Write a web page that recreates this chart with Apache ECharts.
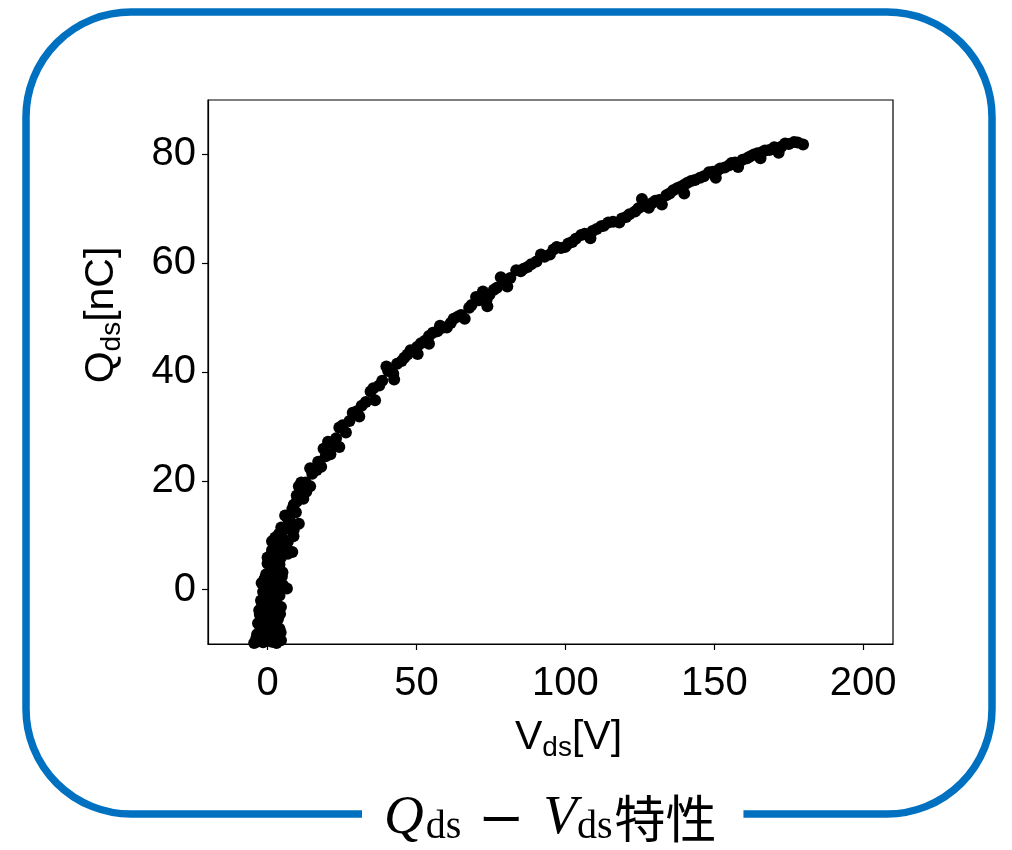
<!DOCTYPE html>
<html>
<head>
<meta charset="utf-8">
<script src="https://cdn.jsdelivr.net/npm/echarts@6/dist/echarts.min.js"></script>
<style>
html,body{margin:0;padding:0;background:#fff;}
#chart{width:1012px;height:850px;}
</style>
</head>
<body>
<div id="chart"></div>
<script>
// Data: Vds [V] and Qds [nC]
const vds = [
 -4.5,-3,-1.5,0,1.5,3,4.5,-3.8,-0.8,2.2,3.8,
 -3.5,-1,1,3.5,-2,0.2,2.6,4.4,
 -2.5,0,2,4,-3.2,-1.2,1.2,3,
 -2,0.5,3.5,-2.6,-0.8,1.8,4.2,
 -2.8,-0.5,2,4.5,-1.8,1,3.2,
 -2.2,0,2.8,-1,1.6,4,
 -1.5,1,3.5,6.5,-0.5,2.2,5.2,
 -2,0.5,3,4.8,-1,1.8,4,
 -0.5,1.5,3.5,0.8,2.6,5,
 0,2,4,1,3,
 0,1.2,3,6.8,8.3,2.2,4.4,
 1.5,2.8,5,4,6.2,
 1.5,3.8,5.3,8.7,2.6,6.8,
 5.9,7.5,10.5,4.6,8.8,
 6.8,5.9,8.3,9.5,7.4,
 9.8,12,9.8,10.5,11.3,12.8,14.3,13,8.8,
 14.3,15,16.5,18,17,
 18.8,20.3,19.5,21.1,22.5,24.1,23,
 24.1,25.2,26.3,27.5,28.6,30,30.8,31.6,33,
 34.6,35.5,36.1,37.5,38.5,39.9,40.5,42.2,42.5,43.5,45,45.9,47,48,
 50.2,50.4,51.5,53,54.2,54.2,55.5,57.9,57,59,60.2,61.5,62.5,64,65,66.2,67.7,68.5,70,71,72.3,73.8,73.5,74.5,76,77,78.3,79.5,80.5,81.5,83.5,85,86,87.3,88.5,90.3,91.8,93,94.8,96,97.1,98.5,100,101,102.3,103.5,105.3,106.5,108.4,109.1,110.5,112,112.9,114.4,116,118.1,119,120.4,121.5,123.4,124.5,125.7,126.5,128,129,130.2,131.5,132.4,133.9,135,136.2,137.5,138.5,139.9,139.9,141,142.2,143.5,145.2,146.5,148.2,149.5,150.5,151,152,153.5,155,155.8,157,158,159.5,161,162,163.3,164.5,165.5,166,167,168.5,170.1,171.6,172.5,173.8,175,176.8,178,179.8
];
const qds = [
 -9.8,-9.5,-9.7,-9.4,-9.6,-9.8,-9.3,-9.0,-8.8,-9.1,-8.7,
 -8.2,-8.5,-8,-8.3,-7.6,-7.8,-7.5,-7.9,
 -6.8,-7,-6.5,-7.2,-6.2,-6.0,-6.3,-5.9,
 -5.3,-5,-5.4,-4.6,-4.4,-4.7,-4.5,
 -3.8,-3.5,-3.9,-3.2,-2.8,-2.9,-2.7,
 -2,-1.6,-2.2,-1.0,-1.2,-1.1,
 -0.4,0,-0.5,0.2,0.6,0.4,0.8,
 1.2,1.5,1.0,2.4,2.0,2.2,1.8,
 2.8,3.4,3.8,3.0,2.9,3.2,
 4.8,5.2,4.6,4.2,4.4,
 5.9,6.4,6.0,6.6,6.9,5.5,5.8,
 7.3,8.0,8.5,7.0,7.6,
 8.9,10.2,9.2,9.8,9.6,8.8,
 11.1,11.8,12.1,11.4,11.0,
 13.1,13.6,14.8,14.2,12.8,
 16.2,16.7,17.3,19,19.7,19.7,19,18,15.6,
 22.3,21.3,22,22.6,23.5,
 25.9,27.2,24.5,24.9,26.5,26.2,27.8,
 29.8,30.2,28.9,31,32.5,32.8,31.8,33.8,34.5,
 36.4,37,34.8,37.5,38.4,41,40.2,39.7,38.6,41.5,42,42.6,43.2,44,
 44.6,43.3,45.3,45.8,46.6,45.2,47.2,48.5,47.5,48.2,48.2,49,49.8,50.2,50.5,49.8,51.8,52.3,53.8,53.2,54.8,52.1,53.2,54.2,55.1,55.5,57.4,56.6,55.7,57.3,58.7,58.5,59,59.3,59.8,60.3,61.6,61.2,61.6,62.5,63,62.8,63,63.6,63.9,64.5,65.2,65.4,64.6,65.9,66.3,66.8,66.9,67.5,67.6,67.5,68.2,68.5,69,69.5,70.1,71.8,70.5,70.2,71,71.5,71.6,70.8,72.5,72.8,73.4,73.8,74,72.8,74.4,74.8,75.1,75.3,75.7,76,76.7,76.8,75.7,77,77.4,77.6,78,78.4,78.5,77.7,79,79.3,79.6,80,80.2,79.3,80.4,80.7,80.8,81.3,80.3,81.4,82,81.9,82.3,82.2,81.8
];
const xTicks = [0, 50, 100, 150, 200];
const yTicks = [0, 20, 40, 60, 80];

const points = vds.map((v, i) => [v, qds[i]]);

const chart = echarts.init(document.getElementById('chart'), null, {renderer: 'canvas'});
const sans = 'Liberation Sans, Arial, sans-serif';
const serif = 'Liberation Serif, DejaVu Serif, serif';
chart.setOption({
  animation: false,
  backgroundColor: '#fff',
  title: {
    text: '{q|Q}{qs|ds}{dash|ー}{q|V}{qs2|ds}{cjk|特性}',
    left: 362,
    top: 789,
    backgroundColor: '#fff',
    padding: [2, 27, 2, 22],
    textStyle: {
      fontWeight: 'normal',
      rich: {
        q: {fontFamily: serif, fontStyle: 'italic', fontWeight: 'normal', fontSize: 55, color: '#000', lineHeight: 56, verticalAlign: 'middle'},
        qs: {fontFamily: serif, fontWeight: 'normal', fontSize: 40, color: '#000', lineHeight: 36, verticalAlign: 'bottom', padding: [0, 0, 0, 2]},
        qs2: {fontFamily: serif, fontWeight: 'normal', fontSize: 40, color: '#000', lineHeight: 36, verticalAlign: 'bottom', padding: [0, 2, 0, 0]},
        dash: {fontFamily: 'Noto Sans CJK JP', fontWeight: 'normal', fontSize: 44, color: '#000', lineHeight: 56, padding: [0, 20, 0, 18], verticalAlign: 'middle'},
        cjk: {fontFamily: 'Noto Sans CJK JP', fontWeight: 'normal', fontSize: 51, color: '#000', lineHeight: 56, verticalAlign: 'middle'}
      }
    }
  },
  graphic: [{
    type: 'rect',
    z: -1,
    shape: {x: 26, y: 12, width: 966, height: 802, r: 105},
    style: {fill: 'none', stroke: '#0070C0', lineWidth: 7.5}
  }],
  grid: {
    left: 208, right: 119, top: 100, bottom: 206,
    show: true, borderColor: '#000', borderWidth: 1.2, backgroundColor: 'transparent'
  },
  xAxis: {
    type: 'value',
    min: -20, max: 210,
    name: '{m|V}{s|ds}{m|[V]}',
    nameLocation: 'middle',
    nameGap: 70,
    nameTextStyle: {
      padding: [0, 0, 0, 36],
      rich: {
        m: {fontFamily: sans, fontSize: 41, color: '#000', lineHeight: 48, verticalAlign: 'middle'},
        s: {fontFamily: sans, fontSize: 28, color: '#000', lineHeight: 28, verticalAlign: 'bottom'}
      }
    },
    axisLine: {show: true, onZero: false, lineStyle: {color: '#000', width: 1.2}},
    axisTick: {show: true, inside: false, length: 6, customValues: xTicks, lineStyle: {color: '#000', width: 1.2}},
    axisLabel: {show: true, customValues: xTicks, margin: 20, fontFamily: sans, fontSize: 40, color: '#000'},
    splitLine: {show: false}
  },
  yAxis: {
    type: 'value',
    min: -10, max: 90,
    name: '{m|Q}{s|ds}{m|[nC]}',
    nameLocation: 'middle',
    nameRotate: 90,
    nameGap: 82,
    nameTextStyle: {
      padding: [0, 0, 0, 114],
      rich: {
        m: {fontFamily: sans, fontSize: 41, color: '#000', lineHeight: 48, verticalAlign: 'middle'},
        s: {fontFamily: sans, fontSize: 28, color: '#000', lineHeight: 28, verticalAlign: 'bottom'}
      }
    },
    axisLine: {show: true, onZero: false, lineStyle: {color: '#000', width: 1.2}},
    axisTick: {show: true, inside: false, length: 6, customValues: yTicks, lineStyle: {color: '#000', width: 1.2}},
    axisLabel: {show: true, customValues: yTicks, margin: 12, fontFamily: sans, fontSize: 40, color: '#000'},
    splitLine: {show: false}
  },
  series: [{
    type: 'scatter',
    data: points,
    symbol: 'circle',
    symbolSize: 12,
    itemStyle: {color: '#000', opacity: 1},
    clip: true
  }]
});
</script>
</body>
</html>
